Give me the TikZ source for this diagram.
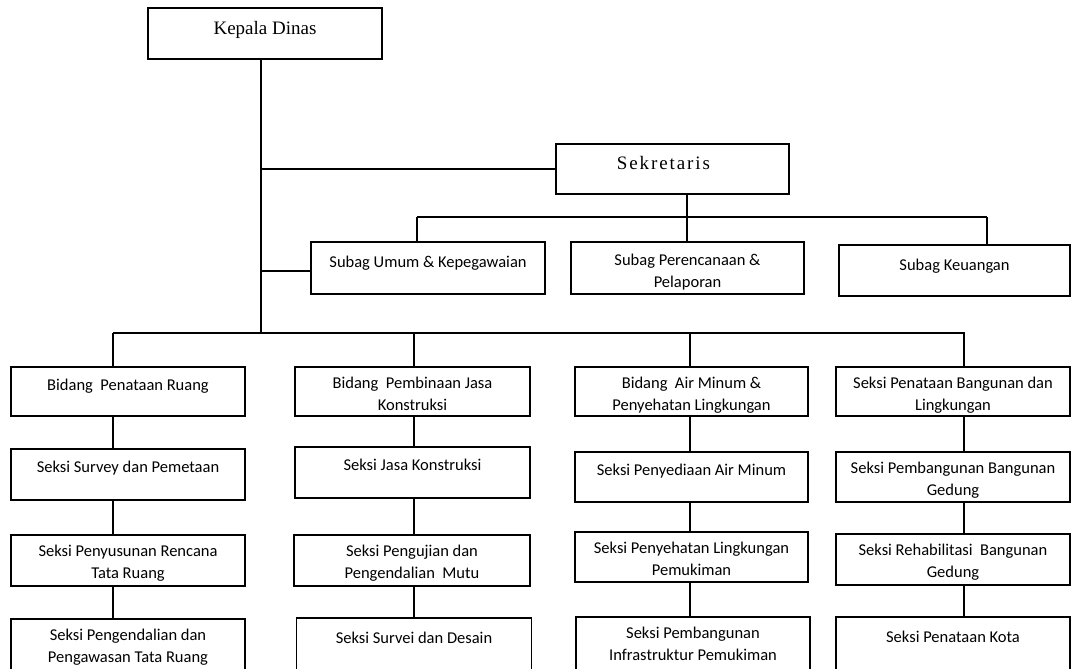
\documentclass[tikz,border=0pt]{standalone}
\usepackage{fontspec}
\setmainfont{Liberation Serif}
\newfontfamily\sansf{Carlito}
\begin{document}
\begin{tikzpicture}[x=1pt,y=-1pt,
  box/.style={draw, line width=1.4pt, inner sep=0pt},
  link/.style={line width=1.3pt},
  serif/.style={font=\fontsize{19}{23}\selectfont, inner sep=0pt},
  tone/.style={font=\sansf\fontsize{16.5}{22}\selectfont, align=center, anchor=north, inner sep=0pt, text height=11pt, yshift=-15pt},
  ttwo/.style={font=\sansf\fontsize{16.5}{22}\selectfont, align=center, anchor=north, inner sep=0pt, text height=33pt, yshift=-11pt}]
\useasboundingbox (0,0) rectangle (1072,669);
\fill[white] (0,0) rectangle (1072,669);
% top
\node[box, minimum width=234pt, minimum height=51pt] (kd) at (265,33.5) {};
\node[serif] (kdt) at ([yshift=4pt]kd.center) {Kepala Dinas};
\node[box, minimum width=233pt, minimum height=50pt] (sek) at (672.5,169) {};
\node[serif] (sekt) at ([xshift=-9pt,yshift=6pt]sek.center) {\addfontfeature{LetterSpace=10}Sekretaris};
% subag
\node[box, minimum width=234pt, minimum height=52pt] (su) at (428,268) {};
\node[tone] (sut) at (su.north) {Subag Umum \& Kepegawaian};
\node[box, minimum width=233pt, minimum height=52pt] (sp) at (687.5,268) {};
\node[ttwo] (spt) at ([yshift=-2pt]sp.north) {Subag Perencanaan \&\\Pelaporan};
\node[box, minimum width=231pt, minimum height=51pt] (sk) at (954.5,270.5) {};
\node[tone] (skt) at (sk.north) {Subag Keuangan};
% row 1
\node[box, minimum width=234pt, minimum height=49pt] (a1) at (128,391.5) {};
\node[tone] (a1t) at ([yshift=2pt]a1.north) {Bidang\ \ Penataan Ruang};
\node[box, minimum width=235pt, minimum height=49pt] (b1) at (412.5,391.5) {};
\node[ttwo] (b1t) at (b1.north) {Bidang\ \ Pembinaan Jasa\\Konstruksi};
\node[box, minimum width=233pt, minimum height=49pt] (c1) at (691.5,391.5) {};
\node[ttwo] (c1t) at (c1.north) {Bidang\ \ Air Minum \&\\Penyehatan Lingkungan};
\node[box, minimum width=234pt, minimum height=49pt] (d1) at (953,391.5) {};
\node[ttwo] (d1t) at (d1.north) {Seksi Penataan Bangunan dan\\Lingkungan};
% row 2
\node[box, minimum width=234pt, minimum height=51pt] (a2) at (128,474.5) {};
\node[tone] (a2t) at ([yshift=2pt]a2.north) {Seksi Survey dan Pemetaan};
\node[box, minimum width=235pt, minimum height=51pt] (b2) at (412.5,472.5) {};
\node[tone] (b2t) at ([yshift=2pt]b2.north) {Seksi Jasa Konstruksi};
\node[box, minimum width=233pt, minimum height=50pt] (c2) at (691.5,477) {};
\node[tone] (c2t) at ([yshift=2pt]c2.north) {Seksi Penyediaan Air Minum};
\node[box, minimum width=234pt, minimum height=50pt] (d2) at (953,477) {};
\node[ttwo] (d2t) at (d2.north) {Seksi Pembangunan Bangunan\\Gedung};
% row 3
\node[box, minimum width=234pt, minimum height=51pt] (a3) at (128,560.5) {};
\node[ttwo] (a3t) at (a3.north) {Seksi Penyusunan Rencana\\Tata Ruang};
\node[box, minimum width=236pt, minimum height=51pt] (b3) at (412,560.5) {};
\node[ttwo] (b3t) at (b3.north) {Seksi Pengujian dan\\Pengendalian\ \ Mutu};
\node[box, minimum width=233pt, minimum height=50pt] (c3) at (691.5,557) {};
\node[ttwo] (c3t) at (c3.north) {Seksi Penyehatan Lingkungan\\Pemukiman};
\node[box, minimum width=234pt, minimum height=51pt] (d3) at (953,559.5) {};
\node[ttwo] (d3t) at (d3.north) {Seksi Rehabilitasi\ \ Bangunan\\Gedung};
% row 4
\node[box, minimum width=234pt, minimum height=52pt] (a4) at (128,645) {};
\node[ttwo] (a4t) at (a4.north) {Seksi Pengendalian dan\\Pengawasan Tata Ruang};
\node[box, minimum width=235pt, minimum height=52pt] (b4) at (414,644) {};
\node[tone] (b4t) at (b4.north) {Seksi Survei dan Desain};
\node[box, minimum width=234pt, minimum height=53pt] (c4) at (693,643.5) {};
\node[ttwo] (c4t) at (c4.north) {Seksi Pembangunan\\Infrastruktur Pemukiman};
\node[box, minimum width=234pt, minimum height=53pt] (d4) at (953,643.5) {};
\node[tone] (d4t) at (d4.north) {Seksi Penataan Kota};
% connectors
\coordinate (trunk) at (261,333);
\draw[link] (kd.south -| trunk) -- (trunk);
\draw[link] (sek.west) -- (sek.west -| trunk);
\draw[link] ([yshift=-3pt]su.west) -- ([yshift=-3pt]su.west -| trunk);
\coordinate (sbus) at (687,217);
\coordinate (sl) at (417,217);
\coordinate (sr) at (987,217);
\draw[link] (sek.south -| sbus) -- (sbus);
\draw[link] (sl) -- (sr);
\draw[link] (sl) -- (sl |- su.north);
\draw[link] (sbus) -- (sbus |- sp.north);
\draw[link] (sr) -- (sr |- sk.north);
\coordinate (ba) at (113,333);
\coordinate (bb) at (414,333);
\coordinate (bc) at (690,333);
\coordinate (bd) at (964,333);
\draw[link] (ba) -- ([xshift=1pt]bd);
\foreach \c in {a,b,c,d}{
  \draw[link] (b\c) -- (b\c |- \c1.north);
  \draw[link] (b\c |- \c1.south) -- (b\c |- \c2.north);
  \draw[link] (b\c |- \c2.south) -- (b\c |- \c3.north);
  \draw[link] (b\c |- \c3.south) -- (b\c |- \c4.north);
}
\end{tikzpicture}
\end{document}
